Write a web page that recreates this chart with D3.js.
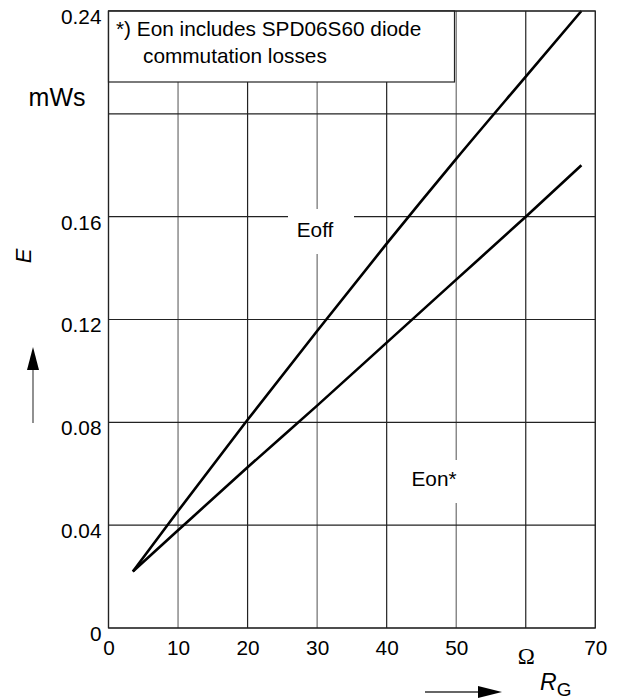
<!DOCTYPE html>
<html>
<head>
<meta charset="utf-8">
<script src="https://cdn.jsdelivr.net/npm/d3@7"></script>
<style>
  body { margin: 0; background: #fff; }
  svg { font-family: Arial, "Liberation Sans", sans-serif; }
</style>
</head>
<body>
<script>
// données
const rg = [3.5, 10, 20, 30, 40, 50, 60, 68];
const eoff = [0.022, 0.0455, 0.081, 0.1155, 0.1495, 0.1825, 0.2145, 0.24];
const eon = [0.022, 0.038, 0.0625, 0.0865, 0.111, 0.1355, 0.160, 0.180];
const xTicks = [0, 10, 20, 30, 40, 50, 60, 70];
const xTickLabels = ["0", "10", "20", "30", "40", "50", "\u03A9", "70"];
const yTicks = [0, 0.04, 0.08, 0.12, 0.16, 0.20, 0.24];
const yTickLabels = ["0", "0.04", "0.08", "0.12", "0.16", "mWs", "0.24"];
const yGrid = [0, 0.04, 0.08, 0.12, 0.16, 0.20, 0.24];

const WIDTH = 618, HEIGHT = 700;
const mLeft = 108.5, mRight = 595.3, mTop = 11, mBottom = 628;
const FS = 20.8;

const svg = d3.select("body").append("svg")
  .attr("width", WIDTH).attr("height", HEIGHT);

const x = d3.scaleLinear().domain([0, 70]).range([mLeft, mRight]);
const y = d3.scaleLinear().domain([0, 0.24]).range([mBottom, mTop]);

// grille
const grid = svg.append("g");
grid.selectAll("line.v").data(xTicks).enter().append("line")
  .attr("x1", d => x(d)).attr("x2", d => x(d))
  .attr("y1", mTop).attr("y2", mBottom)
  .attr("stroke", (d, i) => i % 2 ? "#6e6e6e" : "#222").attr("stroke-width", 1.2);
grid.selectAll("line.h").data(yGrid).enter().append("line")
  .attr("x1", mLeft).attr("x2", mRight)
  .attr("y1", d => y(d)).attr("y2", d => y(d))
  .attr("stroke", "#222").attr("stroke-width", 1.2);

// axes (labels seulement)
const xAxis = svg.append("g").attr("transform", `translate(0,${mBottom})`)
  .call(d3.axisBottom(x).tickValues(xTicks).tickSize(0).tickPadding(12)
    .tickFormat((d, i) => xTickLabels[i]));
xAxis.select(".domain").remove();
xAxis.selectAll("text").attr("fill", "#000")
  .attr("font-family", (d, i) => xTickLabels[i] === "\u03A9" ? "'Times New Roman', 'Liberation Serif', serif" : null)
  .attr("dy", (d, i) => xTickLabels[i] === "\u03A9" ? "1.05em" : "0.71em")
  .attr("font-size", (d, i) => xTickLabels[i] === "\u03A9" ? 23 : FS);

const yAxis = svg.append("g").attr("transform", `translate(${mLeft},0)`)
  .call(d3.axisLeft(y).tickValues(yTicks).tickSize(0).tickPadding(7)
    .tickFormat((d, i) => yTickLabels[i]));
yAxis.select(".domain").remove();
yAxis.selectAll("text").attr("font-size", FS).attr("fill", "#000")
  .attr("dy", "0.6em");
yAxis.selectAll(".tick").filter((d, i) => yTickLabels[i] === "mWs")
  .select("text").attr("x", -23).attr("dy", "-0.35em").attr("font-size", 25);

// courbes
const line = d3.line().x(d => x(d[0])).y(d => y(d[1])).curve(d3.curveMonotoneX);
svg.append("path").datum(d3.zip(rg, eoff))
  .attr("d", line).attr("fill", "none").attr("stroke", "#000").attr("stroke-width", 2.6);
svg.append("path").datum(d3.zip(rg, eon))
  .attr("d", line).attr("fill", "none").attr("stroke", "#000").attr("stroke-width", 2.6);

// étiquettes des courbes
svg.append("rect").attr("x", 288).attr("y", 209).attr("width", 66).attr("height", 45).attr("fill", "#fff");
svg.append("text").attr("x", 315).attr("y", 237).attr("text-anchor", "middle")
  .attr("font-size", FS).text("Eoff");
svg.append("rect").attr("x", 400).attr("y", 460).attr("width", 62).attr("height", 43).attr("fill", "#fff");
svg.append("text").attr("x", 434).attr("y", 486).attr("text-anchor", "middle")
  .attr("font-size", FS).text("Eon*");

// légende
svg.append("rect").attr("x", mLeft).attr("y", mTop).attr("width", 346).attr("height", 71)
  .attr("fill", "#fff").attr("stroke", "#222").attr("stroke-width", 1.2);
svg.append("text").attr("x", 116).attr("y", 36).attr("font-size", FS)
  .text("*) Eon includes SPD06S60 diode");
svg.append("text").attr("x", 143).attr("y", 63).attr("font-size", FS)
  .text("commutation losses");

// cadre
svg.append("rect").attr("x", mLeft).attr("y", mTop).attr("width", mRight - mLeft).attr("height", mBottom - mTop)
  .attr("fill", "none").attr("stroke", "#222").attr("stroke-width", 1.2);

// titre axe Y
svg.append("text").attr("transform", "translate(31,256) rotate(-90)")
  .attr("text-anchor", "middle").attr("font-size", 22).attr("font-style", "italic").text("E");
svg.append("line").attr("x1", 33).attr("x2", 33).attr("y1", 423).attr("y2", 368)
  .attr("stroke", "#555").attr("stroke-width", 1.3);
svg.append("path").attr("d", "M33,347 L27,370 L39,370 Z").attr("fill", "#000");

// titre axe X
svg.append("line").attr("x1", 425).attr("x2", 480).attr("y1", 692).attr("y2", 692)
  .attr("stroke", "#333").attr("stroke-width", 1.3);
svg.append("path").attr("d", "M502,692 L478,686 L478,698 Z").attr("fill", "#000");
const rgLabel = svg.append("text").attr("x", 540).attr("y", 690).attr("font-size", 23);
rgLabel.append("tspan").attr("font-style", "italic").text("R");
rgLabel.append("tspan").attr("dy", 6).attr("font-size", 19).text("G");
</script>
</body>
</html>
